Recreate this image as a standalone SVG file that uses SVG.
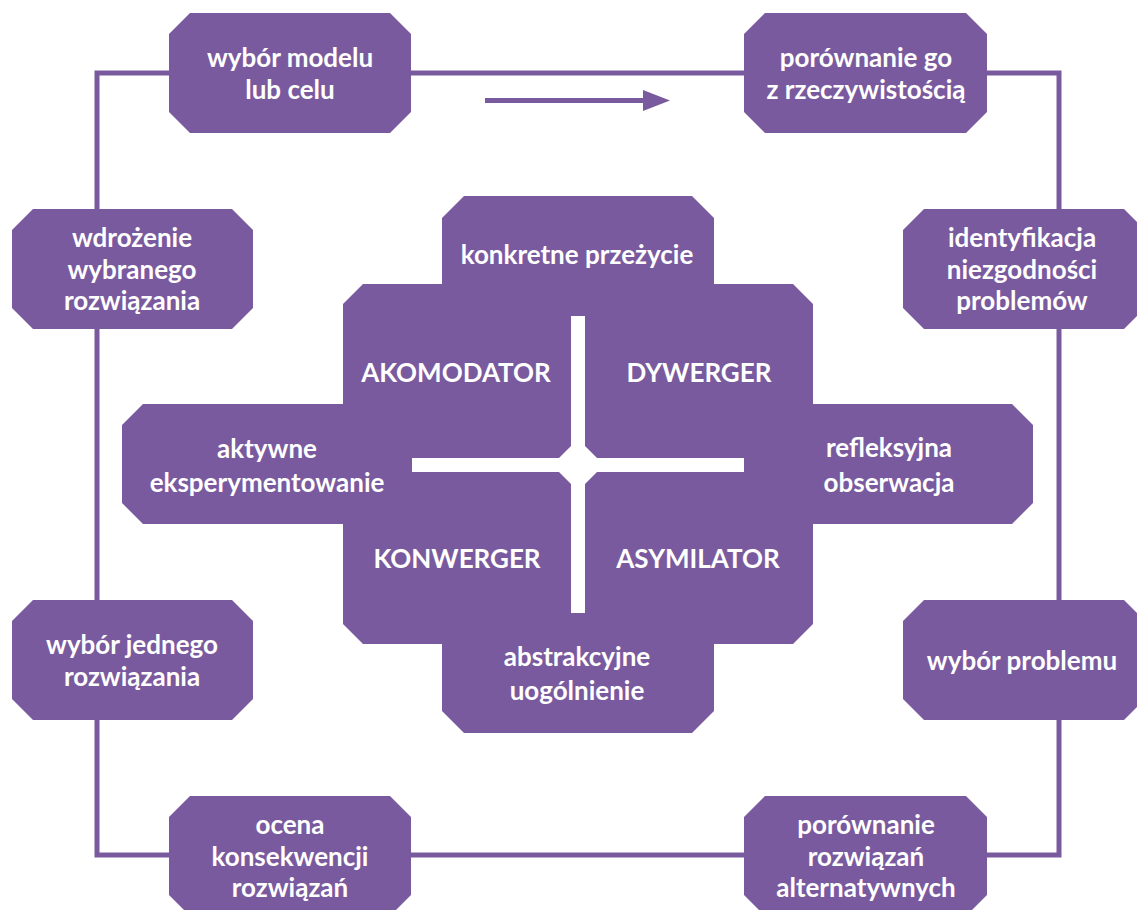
<svg xmlns="http://www.w3.org/2000/svg" width="1137" height="910" viewBox="0 0 1137 910">
<style>
.b{fill:#7a5a9e}
.t{fill:#fff;font-family:Lato,"Open Sans",sans-serif;font-weight:700;font-size:26px;text-anchor:middle}
.u{font-size:26px}
.c{fill:none;stroke:#7a5a9e;stroke-width:5}
</style>
<rect width="1137" height="910" fill="#fff"/>
<g id="connectors">
<rect class="c" x="97" y="73" width="962" height="782"/>
<line x1="485" y1="100.5" x2="646" y2="100.5" stroke="#7a5a9e" stroke-width="5"/>
<polygon class="b" points="643,90 670,100.5 643,111"/>
</g>
<g id="n1"><polygon class="b" points="190,13 390,13 411,34 411,112 390,133 190,133 169,112 169,34"/>
<text class="t"><tspan x="290" y="67">wybór modelu</tspan><tspan x="290" y="99">lub celu</tspan></text></g>
<g id="n2"><polygon class="b" points="765,13 966,13 987,34 987,112 966,133 765,133 744,112 744,34"/>
<text class="t"><tspan x="866" y="67">porównanie go</tspan><tspan x="866" y="99">z rzeczywistością</tspan></text></g>
<g id="n3"><polygon class="b" points="33,209 232,209 253,230 253,308 232,329 33,329 12,308 12,230"/>
<text class="t"><tspan x="132" y="247">wdrożenie</tspan><tspan x="132" y="278.5">wybranego</tspan><tspan x="132" y="310">rozwiązania</tspan></text></g>
<g id="n4"><polygon class="b" points="924,209 1124,209 1145,230 1145,308 1124,329 924,329 903,308 903,230"/>
<text class="t"><tspan x="1022" y="247">identyfikacja</tspan><tspan x="1022" y="278.5">niezgodności</tspan><tspan x="1022" y="310">problemów</tspan></text></g>
<g id="n5"><polygon class="b" points="33,600 232,600 253,621 253,699 232,720 33,720 12,699 12,621"/>
<text class="t"><tspan x="132" y="654">wybór jednego</tspan><tspan x="132" y="686">rozwiązania</tspan></text></g>
<g id="n6"><polygon class="b" points="924,600 1124,600 1145,621 1145,699 1124,720 924,720 903,699 903,621"/>
<text class="t"><tspan x="1022" y="670">wybór problemu</tspan></text></g>
<g id="n7"><polygon class="b" points="190,796 390,796 411,817 411,895 390,916 190,916 169,895 169,817"/>
<text class="t"><tspan x="290" y="834">ocena</tspan><tspan x="290" y="866">konsekwencji</tspan><tspan x="290" y="897">rozwiązań</tspan></text></g>
<g id="n8"><polygon class="b" points="765,796 966,796 987,817 987,895 966,916 765,916 744,895 744,817"/>
<text class="t"><tspan x="866" y="834">porównanie</tspan><tspan x="866" y="866">rozwiązań</tspan><tspan x="866" y="897">alternatywnych</tspan></text></g>
<g id="center">
<polygon class="b" points="464,196 692,196 714,218 714,300 442,300 442,218"/>
<polygon class="b" points="363,284 793,284 813,304 813,624 793,644 363,644 343,624 343,304"/>
<polygon class="b" points="143,404 1012,404 1033,425 1033,503 1012,524 143,524 122,503 122,425"/>
<polygon class="b" points="442,630 714,630 714,711 692,733 464,733 442,711"/>
<rect x="571" y="316" width="14" height="297" fill="#fff"/>
<rect x="412" y="458" width="332" height="14" fill="#fff"/>
<polygon points="578,439 604,465 578,491 552,465" fill="#fff"/>
</g>
<g id="konkretne"><text class="t" x="577" y="264">konkretne przeżycie</text></g>
<g id="akomodator"><text class="t u" x="456" y="382">AKOMODATOR</text></g>
<g id="dywerger"><text class="t u" x="699" y="382">DYWERGER</text></g>
<g id="aktywne"><text class="t"><tspan x="267" y="458">aktywne</tspan><tspan x="267" y="492">eksperymentowanie</tspan></text></g>
<g id="refleksyjna"><text class="t"><tspan x="889" y="457">refleksyjna</tspan><tspan x="889" y="492">obserwacja</tspan></text></g>
<g id="konwerger"><text class="t u" x="457" y="568">KONWERGER</text></g>
<g id="asymilator"><text class="t u" x="698" y="568">ASYMILATOR</text></g>
<g id="abstrakcyjne"><text class="t"><tspan x="577" y="666">abstrakcyjne</tspan><tspan x="577" y="700">uogólnienie</tspan></text></g>
</svg>
